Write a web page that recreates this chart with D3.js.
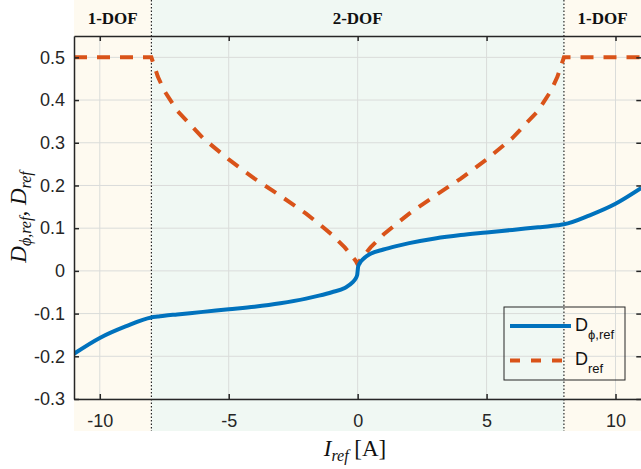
<!DOCTYPE html>
<html>
<head>
<meta charset="utf-8">
<script src="https://cdn.jsdelivr.net/npm/d3@7"></script>
<style>
  body { margin: 0; background: #fff; }
  svg { display: block; }
  .tick text { font-family: "Liberation Sans", Arial, sans-serif; font-size: 18px; fill: #262626; }
</style>
</head>
<body>
<svg width="641" height="469"></svg>
<script>
// reference current [A]
var iRef = [-11, -10, -9, -8, -7.75, -7.5, -7, -6, -5, -4, -3, -2, -1.5, -1, -0.5, -0.2, -0.08, -0.02, 0,
            0.02, 0.08, 0.2, 0.5, 1, 1.5, 2, 3, 4, 5, 6, 7, 7.5, 7.75, 8, 9, 10, 11];
// D_phi,ref
var dPhiRef = [-0.194, -0.157, -0.13, -0.109, -0.107, -0.105, -0.102, -0.096, -0.09, -0.084, -0.076, -0.065, -0.058, -0.05, -0.04, -0.027, -0.018, -0.01, 0,
               0.01, 0.018, 0.027, 0.04, 0.05, 0.058, 0.065, 0.076, 0.084, 0.09, 0.096, 0.102, 0.105, 0.107, 0.109, 0.13, 0.157, 0.194];
// D_ref
var dRef = [0.5, 0.5, 0.5, 0.5, 0.455, 0.422, 0.375, 0.311, 0.261, 0.216, 0.176, 0.134, 0.11, 0.085, 0.055, 0.033, 0.024, 0.017, 0.015,
            0.017, 0.024, 0.033, 0.055, 0.085, 0.11, 0.134, 0.176, 0.216, 0.261, 0.311, 0.375, 0.422, 0.455, 0.5, 0.5, 0.5, 0.5];

var xTicks = [-10, -5, 0, 5, 10];
var yTicks = [-0.3, -0.2, -0.1, 0, 0.1, 0.2, 0.3, 0.4, 0.5];
// operating regions
var regions = [
  {from: -11, to: -8, label: "1-DOF", fill: "#fefaf0"},
  {from: -8, to: 8, label: "2-DOF", fill: "#f0f8f3"},
  {from: 8, to: 11, label: "1-DOF", fill: "#fefaf0"}
];
var boundaries = [-8, 8];

var svg = d3.select("svg");
var axL = 74, axR = 641.3, axT = 36, axB = 399;

var x = d3.scaleLinear().domain([-11, 11]).range([axL, axR]);
var y = d3.scaleLinear().domain([-0.3, 0.55]).range([axB, axT]);

// shaded regions
svg.selectAll("rect.region")
  .data(regions)
  .enter()
  .append("rect")
  .attr("class", "region")
  .attr("x", function(d) { return x(d.from); })
  .attr("width", function(d) { return x(d.to) - x(d.from); })
  .attr("y", 0)
  .attr("height", 431)
  .style("fill", function(d) { return d.fill; });

svg.selectAll("text.region")
  .data(regions)
  .enter()
  .append("text")
  .attr("class", "region")
  .attr("x", function(d) { return (x(d.from) + x(d.to)) / 2; })
  .attr("y", 24)
  .attr("text-anchor", "middle")
  .style("font-family", "'Liberation Serif', 'Times New Roman', serif")
  .style("font-weight", "bold")
  .style("font-size", "17px")
  .style("fill", "#111")
  .text(function(d) { return d.label; });

// grid
var grid = svg.append("g").style("stroke", "#dadcda").style("stroke-width", 1);
grid.selectAll("line.gx").data(xTicks).enter().append("line")
  .attr("x1", function(d) { return x(d); }).attr("x2", function(d) { return x(d); })
  .attr("y1", axT).attr("y2", axB);
grid.selectAll("line.gy").data(yTicks).enter().append("line")
  .attr("y1", function(d) { return y(d); }).attr("y2", function(d) { return y(d); })
  .attr("x1", axL).attr("x2", axR);

// boundaries
svg.selectAll("line.bound")
  .data(boundaries)
  .enter()
  .append("line")
  .attr("x1", function(d) { return x(d); }).attr("x2", function(d) { return x(d); })
  .attr("y1", 0).attr("y2", 431)
  .style("stroke", "#000")
  .style("stroke-width", 1)
  .style("stroke-dasharray", "1.5,2");

// curves
svg.append("clipPath").attr("id", "clip")
  .append("rect").attr("x", axL).attr("y", axT).attr("width", axR - axL).attr("height", axB - axT);

var pts = iRef.map(function(v, i) { return {i: v, phi: dPhiRef[i], d: dRef[i]}; });

var linePhi = d3.line().x(function(d) { return x(d.i); }).y(function(d) { return y(d.phi); }).curve(d3.curveMonotoneX);
var lineRef = d3.line().x(function(d) { return x(d.i); }).y(function(d) { return y(d.d); });

svg.append("path")
  .datum(pts)
  .attr("clip-path", "url(#clip)")
  .attr("d", lineRef)
  .style("fill", "none")
  .style("stroke", "#D95319")
  .style("stroke-width", 4)
  .style("stroke-dasharray", "13,10");

svg.append("path")
  .datum(pts)
  .attr("clip-path", "url(#clip)")
  .attr("d", linePhi)
  .style("fill", "none")
  .style("stroke", "#0072BD")
  .style("stroke-width", 4);

// axes
var axisColor = "#262626";
var gx = svg.append("g").attr("transform", "translate(0," + axB + ")")
  .call(d3.axisBottom(x).tickValues(xTicks).tickSizeInner(-5).tickSizeOuter(0).tickPadding(15));
var gxTop = svg.append("g").attr("transform", "translate(0," + axT + ")")
  .call(d3.axisTop(x).tickValues(xTicks).tickSizeInner(-5).tickSizeOuter(0).tickFormat(""));
var gy = svg.append("g").attr("transform", "translate(" + axL + ",0)")
  .call(d3.axisLeft(y).tickValues(yTicks).tickSizeInner(-5).tickSizeOuter(0).tickPadding(9));
var gyRight = svg.append("g").attr("transform", "translate(" + axR + ",0)")
  .call(d3.axisRight(y).tickValues(yTicks).tickSizeInner(-5).tickSizeOuter(0).tickFormat(""));

gy.selectAll(".tick text").text(function(d) { return Math.abs(d) < 1e-9 ? "0" : d.toFixed(1); });
gx.selectAll(".tick text").text(function(d) { return String(d); });

[gx, gxTop, gy, gyRight].forEach(function(g) {
  g.select(".domain").style("stroke", axisColor).style("stroke-width", 1.5);
  g.selectAll(".tick line").style("stroke", axisColor).style("stroke-width", 1.5);
});

// legend
var legend = svg.append("g");
legend.append("rect")
  .attr("x", 504).attr("y", 307).attr("width", 121).attr("height", 73)
  .style("fill", "none").style("stroke", axisColor).style("stroke-width", 1);
legend.append("line").attr("x1", 510).attr("x2", 571).attr("y1", 326).attr("y2", 326)
  .style("stroke", "#0072BD").style("stroke-width", 4);
legend.append("line").attr("x1", 510).attr("x2", 571).attr("y1", 360.5).attr("y2", 360.5)
  .style("stroke", "#D95319").style("stroke-width", 4).style("stroke-dasharray", "10,11");
var lt1 = legend.append("text").attr("x", 575).attr("y", 331)
  .style("font-family", "'Liberation Sans', Arial, sans-serif").style("font-size", "18px").style("fill", "#111");
lt1.append("tspan").text("D");
lt1.append("tspan").attr("dy", 8).style("font-size", "13px").text("ϕ,ref");
var lt2 = legend.append("text").attr("x", 575).attr("y", 365)
  .style("font-family", "'Liberation Sans', Arial, sans-serif").style("font-size", "18px").style("fill", "#111");
lt2.append("tspan").text("D");
lt2.append("tspan").attr("dy", 8).style("font-size", "13px").text("ref");

// axis labels
var serif = "'Liberation Serif', 'Times New Roman', serif";
var xl = svg.append("text").attr("x", 355).attr("y", 456).attr("text-anchor", "middle")
  .style("font-family", serif).style("font-size", "23px").style("fill", "#111");
xl.append("tspan").style("font-style", "italic").text("I");
xl.append("tspan").attr("dy", 5).style("font-style", "italic").style("font-size", "16px").text("ref");
xl.append("tspan").attr("dy", -5).text(" [A]");

var yl = svg.append("text").attr("transform", "translate(26,217) rotate(-90)").attr("text-anchor", "middle")
  .style("font-family", serif).style("font-size", "23px").style("font-style", "italic").style("fill", "#111");
yl.append("tspan").text("D");
yl.append("tspan").attr("dy", 5).style("font-size", "16px").text("ϕ,ref");
yl.append("tspan").attr("dy", -5).text(", D");
yl.append("tspan").attr("dy", 5).style("font-size", "16px").text("ref");
</script>
</body>
</html>
